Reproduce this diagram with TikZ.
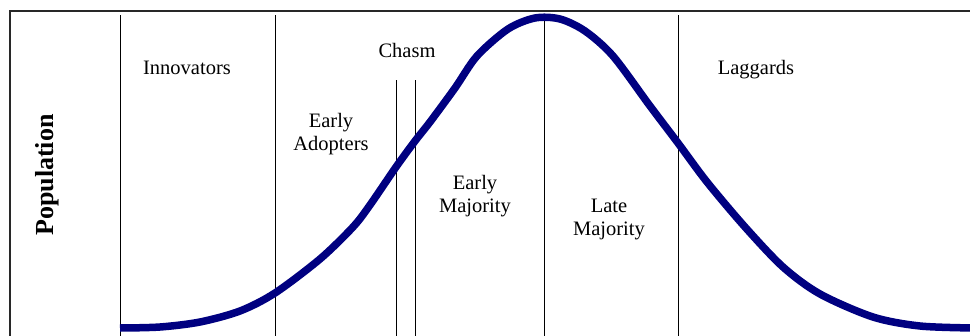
\documentclass[tikz,border=0pt]{standalone}
\usepackage{fontspec}
\setmainfont{Liberation Serif}
\definecolor{curveblue}{RGB}{0,0,128}
\definecolor{framegray}{RGB}{40,40,40}
\begin{document}
\begin{tikzpicture}[x=1pt,y=-1pt,
  lbl/.style={font=\fontsize{20.5}{23}\selectfont, inner sep=0pt, align=center},
  divider/.style={draw=black, line width=1pt},
  frameline/.style={draw=framegray, line width=1.3pt},
  bell/.style={draw=curveblue, line width=7.5pt}]
\useasboundingbox (0,0) rectangle (970,335);
\clip (0,0) rectangle (970,335);
% frame
\coordinate (fTL) at (10,11);
\coordinate (fTR) at (972,11);
\coordinate (fBL) at (10,336);
\draw[frameline] (fBL) -- (fTL) -- (fTR);
% dividers
\foreach \n/\x/\t in {d1/120/15, d2/275/15, c1/396/80, c2/415/80, d3/544/15, d4/678/15}{
  \coordinate (\n top) at (\x,\t);
  \coordinate (\n bot) at (\x,336);
  \draw[divider] (\n top) -- (\n bot);
}
% bell curve
\draw[bell] plot[smooth, tension=0.5] coordinates {
 (120,328) (160,327) (200,322) (240,311) (275,293) (320,259) (353,227)
 (370,205) (396,167) (415,141) (430,122) (455,88) (477,56) (508,29)
 (535,18) (560,19) (585,31) (613,56) (650,106) (678,143) (707,182)
 (745,227) (783,267) (820,294) (873,317) (920,326) (975,328)};
% labels
\node[lbl, anchor=base] (innov) at (187,74) {Innovators};
\node[lbl, anchor=base] (chasm) at (407,57) {Chasm};
\node[lbl, anchor=base] (lagg) at (756,74) {Laggards};
\node[lbl] (adopt) at (331,133.8) {Early\\Adopters};
\node[lbl] (emaj) at (475,196.4) {Early\\Majority};
\node[lbl] (lmaj) at (609,219.1) {Late\\Majority};
\node[font=\fontsize{26}{30}\selectfont\bfseries, inner sep=0pt, rotate=90] (pop) at (47,175) {Population};
\end{tikzpicture}
\end{document}
